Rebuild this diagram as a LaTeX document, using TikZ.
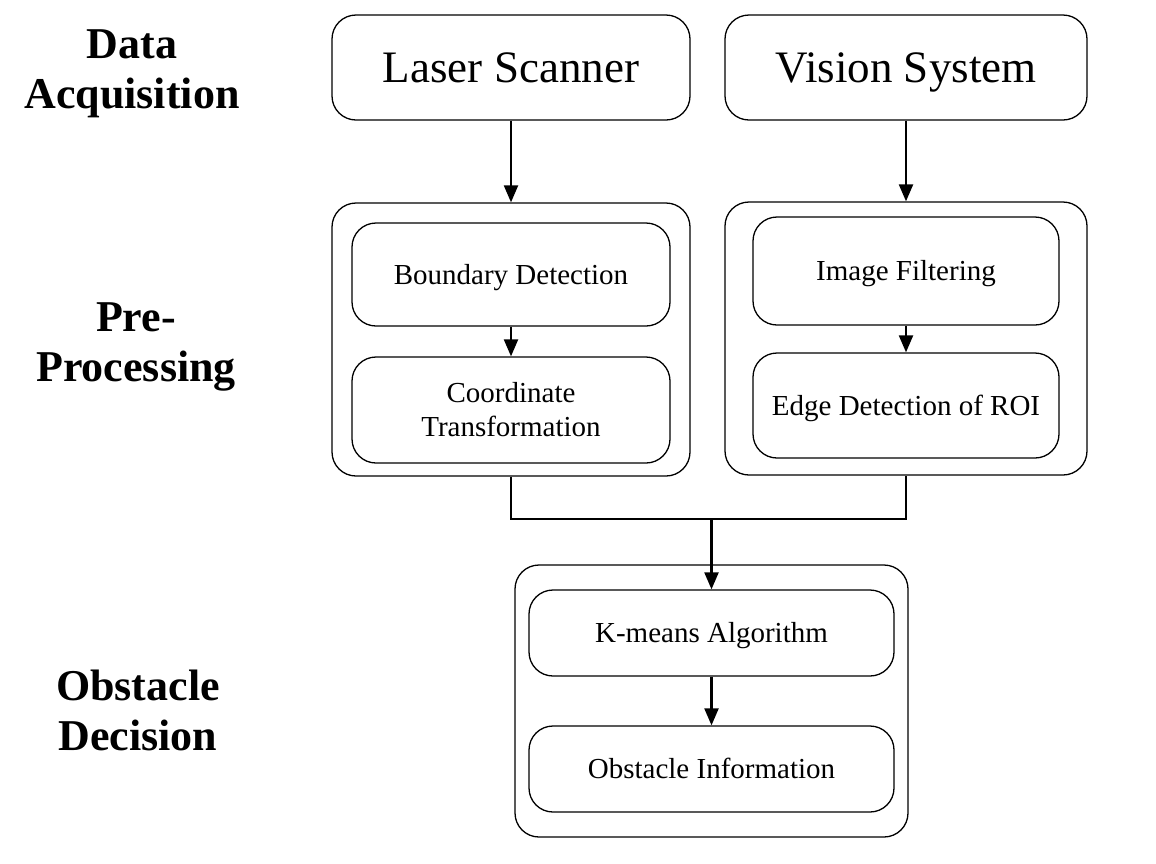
\documentclass[tikz,border=0pt]{standalone}
\usepackage{fontspec}
\setmainfont{Liberation Serif}
\usetikzlibrary{arrows.meta}

\begin{document}
\begin{tikzpicture}[x=1pt,y=-1pt,
  box/.style={draw, line width=1.3pt, rounded corners=24pt, inner sep=0pt, align=center},
  srcbox/.style={box, text height=29.7pt, text depth=0pt, font=\fontsize{45}{50}\selectfont},
  stagebox/.style={box},
  stepbox/.style={box, font=\fontsize{29}{34}\selectfont},
  oneline/.style={text height=19.1pt, text depth=0pt},
  lbl/.style={font=\bfseries\fontsize{44}{50}\selectfont, align=center, inner sep=0pt},
  arr/.style={-{Triangle[width=14pt,length=17pt]}, line width=2.2pt},
  link/.style={line width=2.2pt}]
\useasboundingbox (0,0) rectangle (1156,863);

% stage labels
\node[lbl] (lacq) at (132,74)  {Data\\Acquisition};
\node[lbl] (lpre) at (136,347) {Pre-\\Processing};
\node[lbl] (ldec) at (138,710) {Obstacle\\Decision};

% data sources
\node[srcbox, minimum width=358pt, minimum height=105pt] (laser)  at (511,67.5) {Laser Scanner};
\node[srcbox, minimum width=362pt, minimum height=105pt] (vision) at (906,67.5) {Vision System};

% pre-processing containers
\node[stagebox, minimum width=358pt, minimum height=273pt] (cl) at (511,339.5) {};
\node[stagebox, minimum width=362pt, minimum height=273pt] (cr) at (906,338.5) {};

\node[stepbox, oneline, minimum width=318pt, minimum height=103pt] (bound) at (511,274.5) {Boundary Detection};
\node[stepbox, minimum width=318pt, minimum height=106pt] (coord) at (511,410) {Coordinate\\Transformation};
\node[stepbox, oneline, minimum width=306pt, minimum height=108pt] (filt)  at (906,271) {Image Filtering};
\node[stepbox, oneline, minimum width=306pt, minimum height=105pt] (edge)  at (906,405.5) {Edge Detection of ROI};

% decision container
\node[stagebox, minimum width=393pt, minimum height=272pt] (cd) at (711.5,701) {};
\node[stepbox, oneline, minimum width=365pt, minimum height=86pt] (kmeans) at (711.5,633) {K-means Algorithm};
\node[stepbox, oneline, minimum width=365pt, minimum height=86pt] (info)   at (711.5,769) {Obstacle Information};

% connectors
\draw[arr] (laser.south) -- (cl.north);
\draw[arr] (vision.south) -- (cr.north);
\draw[arr] (bound.south) -- (coord.north);
\draw[arr] (filt.south) -- (edge.north);

\coordinate (join) at (711.5,519);
\draw[link] (cl.south) |- (join) -| (cr.south);
\draw[arr] (join) -- (cd.north |- kmeans.north);
\draw[arr] (kmeans.south) -- (info.north);
\end{tikzpicture}
\end{document}
